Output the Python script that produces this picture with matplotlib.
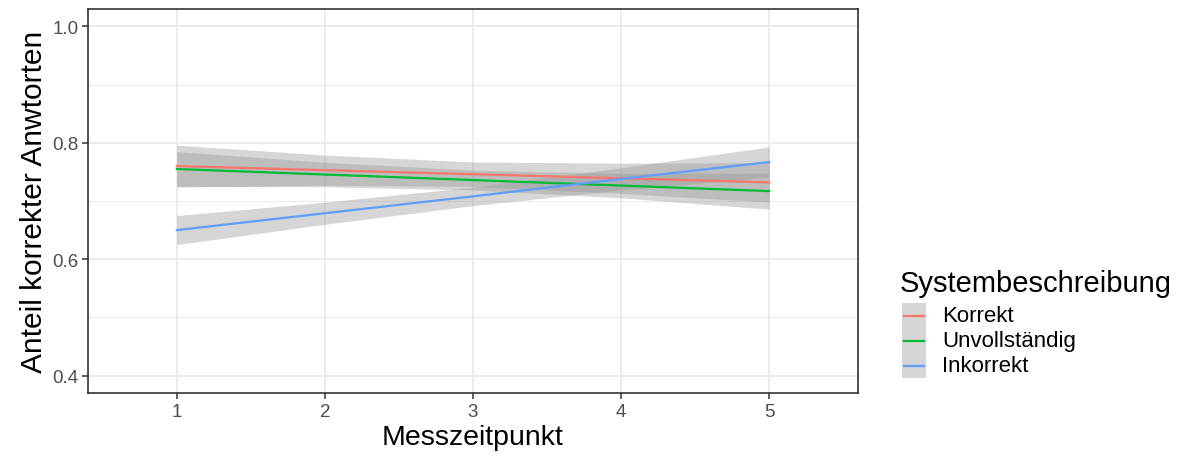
import matplotlib.pyplot as plt
from matplotlib.patches import Rectangle
from matplotlib.lines import Line2D

plt.rcParams["font.family"] = ["Liberation Sans", "DejaVu Sans"]

# Messzeitpunkte und geglättete Anteile je Gruppe (lineare Trends mit 95%-Band)
zeitpunkte = [1, 2, 3, 4, 5]
gruppen = ["Korrekt", "Unvollständig", "Inkorrekt"]

korrekt_fit = [0.760, 0.753, 0.746, 0.739, 0.732]
korrekt_se = [0.036, 0.026, 0.021, 0.026, 0.034]

unvollst_fit = [0.755, 0.7455, 0.736, 0.7265, 0.717]
unvollst_se = [0.030, 0.021, 0.017, 0.021, 0.031]

inkorrekt_fit = [0.650, 0.679, 0.708, 0.738, 0.767]
inkorrekt_se = [0.025, 0.019, 0.016, 0.019, 0.026]

farben = ["#F8766D", "#00BA38", "#619CFF"]
fits = [korrekt_fit, unvollst_fit, inkorrekt_fit]
bands = [korrekt_se, unvollst_se, inkorrekt_se]

W, H = 1182, 464
fig = plt.figure(figsize=(W / 100, H / 100), dpi=100)
ax = fig.add_axes([88 / W, 70 / H, 770 / W, 384 / H])

# Konfidenzbänder zuerst, dann die Linien darüber
for fit, se in zip(fits, bands):
    lo = [f - s for f, s in zip(fit, se)]
    hi = [f + s for f, s in zip(fit, se)]
    ax.fill_between(zeitpunkte, lo, hi, color="#999999", alpha=0.4, linewidth=0, zorder=2)
for fit, col in zip(fits, farben):
    ax.plot(zeitpunkte, fit, color=col, linewidth=1.6, zorder=3)

ax.set_xlim(0.4, 5.6)
ax.set_ylim(0.37, 1.03)
ax.set_xticks(zeitpunkte)
ax.set_yticks([0.4, 0.6, 0.8, 1.0])
ax.set_yticks([0.5, 0.7, 0.9], minor=True)
ax.yaxis.set_major_formatter(plt.FuncFormatter(lambda v, _: f"{v:.1f}"))

# theme_bw-artiges Gitter und Rahmen
ax.grid(which="major", color="#EBEBEB", linewidth=1.4, zorder=0)
ax.grid(which="minor", axis="y", color="#EBEBEB", linewidth=0.8, zorder=0)
ax.set_axisbelow(True)
for sp in ax.spines.values():
    sp.set_color("#333333")
    sp.set_linewidth(1.2)
ax.tick_params(which="major", length=4, width=1.1, color="#333333",
               labelcolor="#4D4D4D", labelsize=13.5, pad=3)
ax.tick_params(which="minor", length=0)

ax.set_xlabel("Messzeitpunkt", fontsize=20.5, labelpad=3)
ax.set_ylabel("Anteil korrekter Anwtorten", fontsize=21.5, labelpad=3)


def fpos(x, y):
    # Pixelposition (von oben links) -> Figurkoordinaten
    return x / W, 1 - y / H


# Legende von Hand: graue Schlüssel ohne Lücken wie bei ggplot
fig.text(*fpos(900, 292), "Systembeschreibung", fontsize=21, va="baseline", ha="left")
key_x, key_w, key_h, key_top = 902, 24, 25, 304
for i, (name, col) in enumerate(zip(gruppen, farben)):
    y0 = key_top + i * key_h
    fx, fy = fpos(key_x, y0 + key_h)
    fig.add_artist(Rectangle((fx, fy), key_w / W, key_h / H, transform=fig.transFigure,
                             facecolor="#D6D6D6", edgecolor="none"))
    ly = fpos(0, y0 + key_h / 2)[1]
    fig.add_artist(Line2D([(key_x + 2) / W, (key_x + key_w - 2) / W], [ly, ly],
                          transform=fig.transFigure, color=col, linewidth=1.6))
    fig.text(*fpos(942, y0 + key_h / 2), name, fontsize=16, va="center", ha="left")

fig.savefig("out.png", dpi=100)
